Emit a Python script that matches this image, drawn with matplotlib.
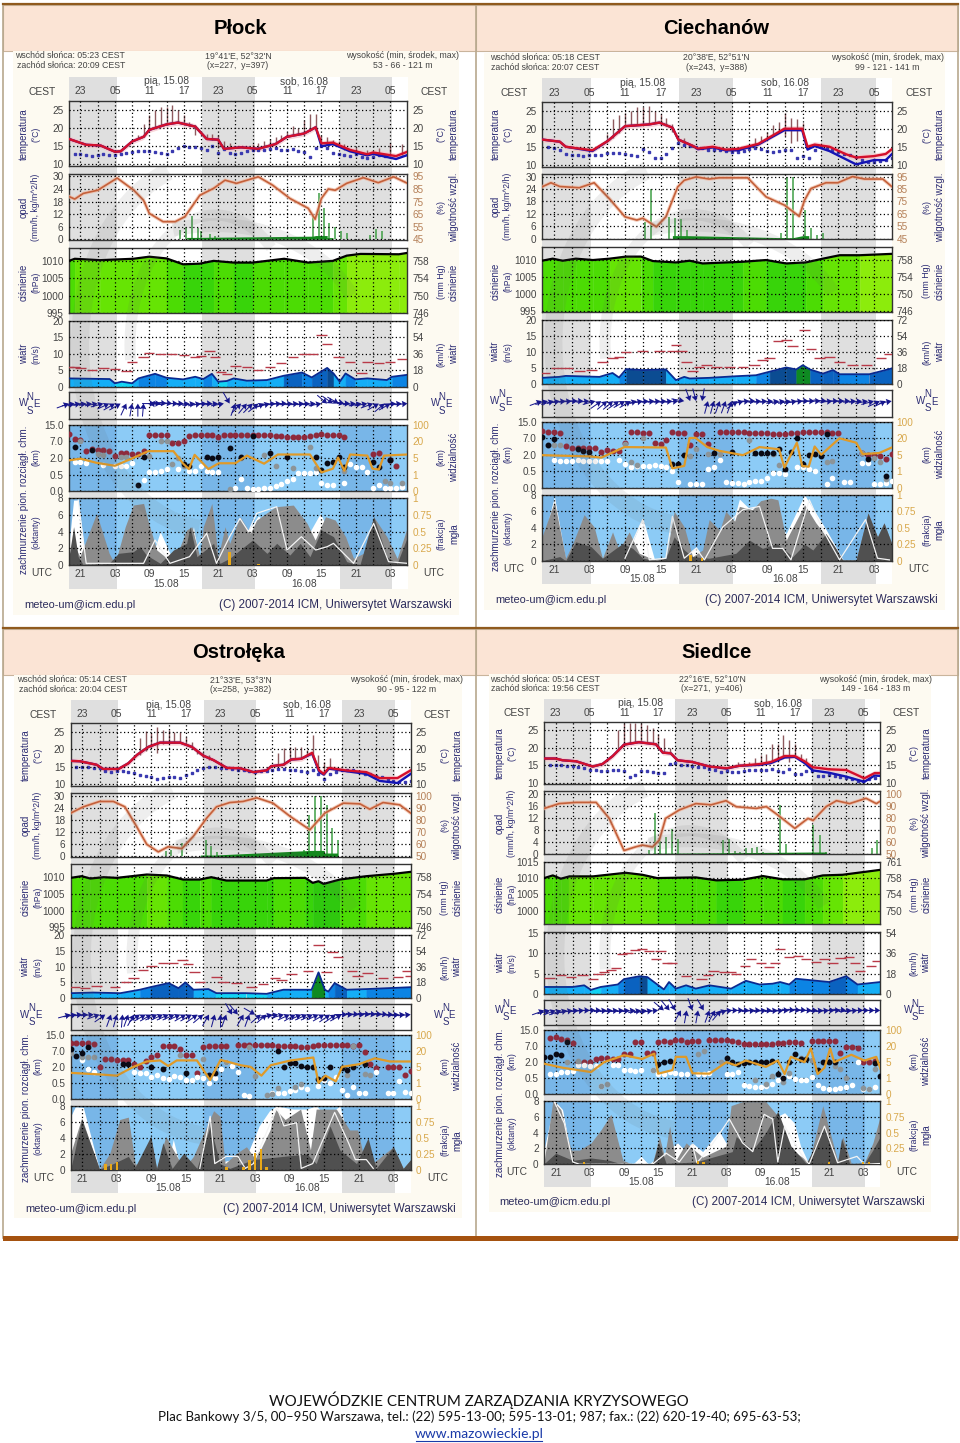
import numpy as np
import matplotlib
matplotlib.use('Agg')
import matplotlib.pyplot as plt
from matplotlib.patches import Arc, Rectangle

plt.rcParams['font.family'] = ['Liberation Sans', 'DejaVu Sans']

NAVY = '#2c2c74'
TICK = '#444444'

# ---------- Plock ----------
PL_TITLE = 'Płock'
PL_INFO = ['05:23', '20:09', "19°41'E, 52°32'N", '(x=227,  y=397)', '53 - 66 - 121 m']
PL_TEMP_H = [0, 3, 5.5, 8, 9, 11, 13, 14, 17, 19, 22, 24, 26, 27, 30, 33, 36, 38, 41, 43, 44, 46, 49, 52, 53, 57, 59]
PL_TEMP = [17, 15.4, 15.2, 13.5, 13.6, 16.3, 17.6, 19.5, 21, 21.5, 20.4, 17, 16.8, 14.3, 14.7, 14.3, 15.6, 17.6, 18.5, 20.2, 15.8, 16, 14, 12.8, 13.3, 12.3, 13.5]
PL_BLUE = [17, 15.4, 15.2, 13.5, 13.6, 16.3, 17.6, 19.5, 21, 21.5, 20.4, 17, 16.8, 14.3, 14.7, 14.3, 15.6, 17.6, 18.5, 20.2, 15, 15.6, 13.6, 12.5, 12.9, 11.5, 12.6]
PL_STEM_H = [12, 13, 14, 15, 16, 17, 18, 19, 20, 21, 22, 24, 25, 26, 27, 28, 32, 33, 34, 35, 36, 37, 38, 39, 40, 41, 42, 43, 44, 45, 46, 47, 48, 50, 52, 54, 56, 58]
PL_STEM_TOP = [18, 21, 23.5, 24.9, 25.9, 25.9, 26.4, 24.9, 23.5, 21.7, 20.8, 18.5, 18.3, 18, 16.5, 16, 15.5, 16, 16.5, 17, 17.5, 18, 19, 20.5, 20, 22.2, 23.8, 23.8, 18, 17.5, 16.8, 16.5, 15.6, 14.8, 14, 14.5, 15.8, 15.5]
PL_STEM_BOT = [17.3, 17.6, 19.5, 20, 20.5, 21, 21.4, 21.4, 21, 20.5, 18, 17, 16.8, 14.5, 14.3, 14.5, 14.3, 14.5, 14.8, 15.2, 15.6, 16.5, 17.6, 18, 18.2, 18.6, 19.2, 20, 15, 15.5, 15.3, 14.8, 14, 13.2, 12.8, 12.6, 12.3, 12.5]
PL_DEW = [None, 12.9, 12.8, 12.5, 12.4, 12.7, 12.9, 12.7, 12.6, 12.9, 13.2, 13.5, 13.7, 13.8, 13.7, 13.4, 13.2, 13, 13.7, 14.5, 15, 14.7, 14.8, 14.6, 13.9, 15, 13.2, 14.3, 13.2, 13, 13.2, 13.6, 14, 13.9, 13.9, 14.2, 14.5, 13.9, 14, 14.2, 13.7, 13.3, 12, 14.6, 15.2, 14.4, 13.2, 13, 12.7, 12.2, 12.8, 12, 11.7, 12, 12.6, 12.2, None, None, None, None]
PL_RH_H = [0, 1, 2.5, 5, 8.4, 11.3, 13, 14, 16.4, 18.5, 20.2, 22.8, 25.2, 27.2, 29.2, 33, 35.5, 38.5, 41.7, 42.9, 44, 45.2, 46.4, 48.4, 51.3, 53.9, 56.6, 59]
PL_RH = [79, 77, 81.5, 84, 93.7, 84, 76, 65.6, 59, 59, 63, 80, 85.5, 92, 89.5, 94.7, 88, 77.5, 69.6, 61, 77.5, 85, 84, 89.5, 94, 90, 94.7, 89.5]
PL_RAIN_H = [19.4, 20.4, 21.4, 22.4, 23, 24.6, 25.5, 42.6, 43.5, 44.5, 45.4, 46.4, 47.4, 48.4, 52.5, 53.5, 54.5]
PL_RAIN = [4.5, 6, 11, 5.5, 4, 2.5, 1.5, 11, 22, 15, 8, 6, 4, 3, 2, 5, 4]
PL_RAIN_LOW_H = [20.5, 21.5, 21.5, 22.2, 42.5, 43, 45, 45, 46]
PL_RAIN_LOW = [0.9, 0.9, 0.9, 0.9, 1.5, 1.8, 1.8, 0.8, 0.8]
PL_PRESS_H = [0, 1, 5.4, 11.2, 14, 17, 19.9, 22.8, 25.2, 28.7, 32, 37.5, 41.7, 46, 48.4, 50.8, 57.5, 59]
PL_PRESS = [1010, 1010.6, 1010.2, 1010.6, 1011.2, 1010.7, 1009, 1009.2, 1010, 1009.5, 1009.5, 1010.6, 1009.5, 1010, 1011.5, 1012, 1011.9, 1012.3]
PL_WIND_H = [0, 7.1, 8, 9.2, 11, 12.1, 15, 17, 19.9, 22, 23.4, 24.9, 26, 27.5, 28.7, 31, 34.5, 37.4, 40.6, 42.3, 45, 46.1, 47.2, 48.2, 49.9, 52, 55.4, 56.3, 59]
PL_WIND = [2.5, 2.3, 1, 1.5, 1, 2.5, 3.9, 2.7, 2.2, 3, 2.3, 3.9, 1.5, 1.7, 2.5, 1.8, 2, 3.3, 4.3, 2.8, 5.7, 4, 1.5, 4, 2.2, 2.5, 2, 3, 3.6]
PL_GUST_H = [0, 1, 2, 4, 6, 8, 10, 11, 13, 14, 16, 18, 20, 22, 23, 24.5, 25.5, 26.5, 27.5, 29, 31, 33, 35, 37, 39, 41, 42.5, 44, 45, 47, 49, 51, 52, 54, 56, 58]
PL_GUST = [6.1, 5.9, 5.6, 5, 5.6, 5.3, 4.8, 7.4, 8.9, 10.2, 10, 9.8, 9.5, 9.1, 9.3, 10.9, 9, 4.4, 3.8, 6.3, 5.9, 5, 5.9, 7.3, 8.9, 9.9, 9.9, 15.7, 12.9, 9.1, 7.6, 4.3, 7.6, 7.3, 7.4, 8.4]
PL_DIR = [20, 10, 10, 8, 8, 10, 15, 25, 30, 30, 65, 80, 90, 85, 175, 0, 0, -5, -5, 0, 0, 5, 8, 10, 5, 0, 5, 10, -60, 70, 45, 50, 45, 40, 25, 15, 5, 5, 0, 5, 5, 5, 5, 5, 10, -40, -35, -30, -10, 0, 5, 10, 10, 20, 30, 40, 30, 5, 5, 5]
PL_BASE_RED = [10.3, 7.9, 7.6, 4.2, 4.6, 4.5, 4.4, 4.2, 2.6, 3.5, 3.5, 3.2, 3.1, 4.2, 9.8, 9.8, 10, 9.8, 6.6, 6.6, 7, 9.7, 9.8, 9.8, 10, 9.8, 9, 10, 10, 10, 10, 10, 10, 9.9, 9.8, 9.8, 9.6, 9.3, 9, 9, 8.9, 9, 9.3, 9.8, 10.3, 10, 9.8, 9.8, 9, None, None, None, None, 3.2, 3.4, None, 1.8, 1.3, None, None]
PL_BASE_BLACK_H = [1, 4, 12, 13, 20, 21, 24, 25, 26, 28, 30, 32, 35, 38, 43, 44, 45, 46, 47, 48, 53, 54, 56]
PL_BASE_BLACK = [5.4, 4.4, 0.18, 2.4, 1.45, 1.3, 2.4, 2, 2.2, 4.9, 2.2, 9.6, 3.4, 2.4, 2.2, 0.95, 1.5, 1.6, 2.2, 1.15, 1.6, 1.2, 1.8]
PL_BASE_GREY_H = [2, 5, 6, 9, 10, 14, 16, 17, 18, 19, 20, 28, 30, 34, 36, 39, 42, 43, 48, 55, 56, 58]
PL_BASE_GREY = [7, 3.3, 3, 2.4, 2.2, 2.6, 7.2, 7, 1.45, 2, 1.3, 0.06, 2, 3, 1.3, 1.1, 5.4, 1.1, 0.85, 0.3, 0.26, 0.26]
PL_BASE_WHITE_H = [1, 2, 3, 6, 8, 9, 10, 11, 13, 14, 15, 16, 17, 19, 21, 22, 23, 24, 25, 26, 29, 30, 31, 32, 33, 34, 35, 36, 37, 38, 39, 40, 41, 42, 43, 44, 45, 46, 48, 49, 50, 51, 52, 53, 54, 55, 56, 57, 58]
PL_BASE_WHITE = [1.6, 1.6, 1.55, 1.4, 1.3, 1.25, 1.3, 1.5, 0.34, 0.7, 0.72, 0.85, 1, 1, 0.8, 0.85, 1.3, 0.85, 0.7, 0.7, 0.11, 0.36, 0.11, 0.08, 0.08, 0.09, 0.11, 0.16, 0.21, 0.3, 0.38, 0.6, 0.6, 0.65, 0.7, 0.26, 0.19, 0.19, 0.24, 1.45, 1.2, 1.2, 0.7, 0.11, 0.18, 0.11, 0.11, 0.11, 0.14]
PL_VIS_H = [0, 2, 4.8, 8, 10.9, 13.8, 18.2, 19.9, 20.9, 21.9, 24.3, 26.1, 29, 31, 34, 36.4, 42, 44, 46, 46.9, 48, 49, 52, 52.9, 54, 54.9, 59]
PL_VIS = [4.4, 4.8, 3.8, 3.1, 4.8, 11, 11, 3.6, 2.3, 7.7, 2.3, 3.7, 3.7, 7, 3.6, 8, 8, 1.5, 2.4, 5.2, 1.9, 8, 7, 2.4, 2.2, 7, 8]
PL_C_WHITE_H = [0, 0.8, 1.6, 3, 14, 15.9, 17.6, 18.5, 20, 21.7, 22.8, 24, 30, 33, 35, 36, 39, 42, 43.8, 45, 46]
PL_C_WHITE = [2.6, 7.8, 7.8, 0, 0, 4, 1.4, 0, 0, 4.6, 0.2, 0, 3, 5.9, 4.5, 6, 6, 4, 6.2, 4.5, 0]
PL_C_GREY_H = [0, 0.5, 1.9, 2.8, 4.8, 7, 8, 9.8, 11.2, 13, 13.9, 15.3, 18.2, 20.5, 21.4, 22.8, 23.4, 24.9, 26, 27.2, 28, 29.8, 31.6, 32.7, 36, 39.1, 41.5, 42.9, 44.7, 46.4, 48.2, 49.6, 51.3, 53.1, 55.4, 57.2, 59]
PL_C_GREY = [0, 3, 1, 2.6, 6.2, 1.4, 0.1, 4.6, 7.2, 7.4, 5, 1.8, 0.2, 4.2, 4.6, 1, 4.6, 7.4, 1, 4.6, 2.6, 5.8, 3.8, 5.4, 7, 7.2, 5, 3, 5.8, 5.4, 3.4, 0.8, 1.4, 5.8, 3.4, 0.8, 4.6]
PL_C_DARK_H = [0, 0.8, 1.6, 2.5, 7, 8.6, 11.2, 12.4, 13.5, 15.9, 18.2, 20.5, 21.1, 22.3, 25.2, 26.3, 28, 29.8, 32, 34.5, 36.2, 38.5, 40.3, 42, 44, 46.1, 48.4, 50.7, 53.1, 55.4, 57.2, 59]
PL_C_DARK = [1, 4.6, 1, 0, 0.2, 1.4, 1.6, 2.2, 1.2, 0.2, 1.8, 2.6, 4.6, 1, 2.6, 0.2, 0.8, 1.8, 3, 1.4, 2.6, 1.2, 2.6, 1, 4.2, 3.4, 0.4, 0, 5.8, 1, 0.2, 3.4]
PL_FOG_H = [1.6, 3, 13, 15, 17.6, 21, 24, 25.7, 28, 29.8, 31.3, 32.7, 36.2, 38, 40.5, 43, 45, 46.1, 49.6, 53.1, 55.7, 59]
PL_FOG = [7.8, 0.2, 0.2, 3, 0.2, 1, 3.8, 0.2, 3.4, 5.6, 4, 6.2, 7, 1.8, 3.4, 1.8, 2.2, 2.6, 0.2, 5, 0.4, 0.2]
PL_MIST_H = [28, 33]
PL_MIST = [0.19, 0.02]

# ---------- Ciechanow ----------
CI_TITLE = 'Ciechanów'
CI_INFO = ['05:18', '20:07', "20°38'E, 52°51'N", '(x=243,  y=388)', '99 - 121 - 141 m']
CI_TEMP_H = [0, 3, 4, 8.5, 11.1, 14, 18.1, 19.8, 22, 23, 25.5, 26.3, 28.8, 31, 33.1, 36.5, 40.9, 43.9, 44.8, 46, 48.5, 51.3, 53, 56, 58, 59]
CI_TEMP = [17, 16.4, 15, 14, 16.6, 20.7, 21.2, 21.7, 20.3, 17, 15.2, 14.5, 15, 14.2, 14.4, 15.8, 20, 20, 15, 15.6, 15, 12.9, 12, 12.4, 13, 14.3]
CI_BLUE = [17, 16.4, 15, 13.8, 16.6, 20.7, 21.2, 21.7, 20.3, 17, 15.2, 14.3, 14.8, 14, 14, 15.6, 19.6, 19.6, 14.2, 15.2, 13.8, 11.5, 10.1, 11.3, 11.3, 12.9]
CI_STEM_H = [11, 12, 13, 14, 15, 16, 17, 18, 19, 20, 21, 22, 23, 24, 36, 37, 38, 39, 40, 41, 42, 43, 44]
CI_STEM_TOP = [18.4, 22.6, 23.8, 24.5, 24.9, 26, 26, 26.3, 24.9, 24, 23, 21.2, 18.2, 17.5, 17.5, 18, 19, 21, 22, 24.4, 23, 22.8, 21.6]
CI_STEM_BOT = [16.6, 17.5, 18.8, 20.7, 20.8, 20.9, 21, 21.2, 21.5, 21.7, 21.2, 19, 16, 15.6, 15.8, 16.4, 17.5, 18, 19, 18, 16, 16.5, 19.7]
CI_DEW = [None, 15, 14.7, 14, 12.9, 12.7, 12.6, 12.4, 12.6, 12.6, 12.6, 13.3, 13.2, 13.3, 12.9, 12.6, 12.4, 14.3, 13.5, 11.9, 11.9, 13, 14.7, 16, 15.5, 15.2, 14.8, 14.6, 14, 14, 14.2, 13.8, 13.5, 13.5, 13.8, 14.3, 14.7, 14.3, 13.8, 13.6, 13.8, 14, 14.2, 11.9, 12.3, 11.9, 14, 14.8, 14.6, 14, 13.6, 13, 12.6, 12.2, 11.4, 10.8, 10.8, 11, 11.2, 12]
CI_RH_H = [0, 1.5, 3, 6.3, 8.8, 11.4, 14, 16, 17, 19.3, 20.9, 22.9, 24, 26, 28.2, 29.9, 34.7, 37.8, 40.9, 43.4, 44.3, 45.4, 47.9, 49.9, 52.4, 54.4, 57.5, 59]
CI_RH = [86.7, 90, 87, 86, 90, 77, 62.6, 60, 61.5, 54.6, 62.6, 86.7, 92, 94.7, 93, 94, 94, 78.7, 72, 63, 76, 85.4, 90, 90, 95, 93, 93, 87]
CI_RAIN_H = [17.4, 18.4, 21.4, 22.4, 23.4, 24.4, 40.4, 41.4, 42.4, 44.4, 45.4, 46.4, 47.4]
CI_RAIN = [8, 24, 10.6, 10, 9.5, 4, 3, 30, 30, 14, 5, 2, 3]
CI_RAIN_LOW_H = [22, 24.2, 41, 42.3, 44, 45]
CI_RAIN_LOW = [1.5, 1.5, 0.5, 0.5, 1.5, 1.5]
CI_PRESS_H = [0, 1.8, 3.5, 5.7, 8.6, 11.4, 14.2, 16.7, 18.7, 22.6, 24.9, 27.1, 33.9, 37.8, 41.2, 44.5, 47.4, 50.2, 53.6, 59]
CI_PRESS = [1009.8, 1010.4, 1009.8, 1010.4, 1010, 1010.4, 1011, 1011, 1009.7, 1009.3, 1009.8, 1009, 1009.5, 1010, 1009, 1009.3, 1010.4, 1011.4, 1011.4, 1011.8]
CI_WIND_H = [0, 2.9, 4, 9.7, 11.9, 13, 14.2, 17, 20.9, 22.6, 24, 24.9, 28.2, 32.7, 36.1, 38.4, 41.2, 42.9, 44, 45.2, 47.4, 49.1, 50.2, 55.2, 59]
CI_WIND = [2, 2.3, 2.6, 2.3, 3.5, 2.1, 4.7, 4.4, 4.6, 1.3, 2.3, 1.8, 2, 2.5, 2.8, 3.9, 5.2, 4.6, 5.9, 4.6, 3.3, 4.4, 3.1, 3.1, 4.9]
CI_GUST_H = [0.5, 2.4, 4.3, 6.3, 8.3, 10.2, 11.9, 13, 14.2, 17, 19.8, 22, 22.6, 23.5, 24.4, 25.4, 26.5, 27.7, 29.4, 31.6, 33.9, 35.8, 37.2, 38.4, 39.8, 41.2, 42.3, 44.3, 45.4, 46.8, 48.5, 50.2, 52.4, 54.7, 57.2, 58.6]
CI_GUST = [3.6, 5, 4.9, 4, 4.4, 7, 8, 8.5, 9.9, 10.2, 10.2, 10.4, 12.2, 10.2, 7, 4, 5.4, 5.9, 5.2, 5.4, 5.4, 6.1, 7.5, 8, 13.5, 13.8, 11.9, 16.7, 10.8, 8, 8.5, 7, 5.9, 6.1, 8, 9.3]
CI_DIR = [20, 15, 15, 10, 5, 5, 0, 0, 5, 15, 35, 40, 40, 35, 30, 30, 15, 10, 5, 5, 5, 5, 5, 5, -10, -70, -75, -100, 75, 75, 70, 70, 70, 35, 15, 5, 0, 5, 5, 5, 10, 10, 10, 10, 5, 0, 0, 0, -5, 5, 0, 0, 0, 5, 5, 10, 15, 25, 25, 10]
CI_BASE_RED = [10.6, 10, 10.2, 9.6, 4.8, 4.2, 4.2, 4.2, 4.2, 4, 2.7, 3.4, 3.2, 3.1, 5.7, 10, 10, 9.6, 9.4, 5.6, 5.3, 6.6, 10, 9.8, 9.6, 5, 9.3, 9.2, 5.2, None, 10, 10, 10, 10, 10, 9.6, 9.6, 9.6, 9.4, 9.3, 9.2, 9.2, 9.8, 9.8, 10, 10, 10, 10, 9.9, 9.7, 9.4, None, None, None, 2.5, 2, 2, 1.9, 1.6, 2.1]
CI_BASE_BLACK_H = [0, 1, 2, 6, 7, 8, 22, 23, 24, 29, 32, 36, 37, 38, 39, 40, 41, 42, 43, 44, 45, 46, 47, 48, 55, 58]
CI_BASE_BLACK = [7.4, 5, 6.9, 3.9, 3, 2.9, 1.2, 1.2, 2, 2.4, 2.8, 2.5, 2.4, 2.6, 2.4, 3.6, 0.7, 2.9, 7.2, 1.2, 2, 2.2, 1.9, 9.3, 1.6, 0.36]
CI_BASE_GREY_H = [1, 2, 3, 14, 15, 16, 17, 25, 26, 28, 30, 35, 39, 40, 48, 49, 54, 56, 57, 58]
CI_BASE_GREY = [5, 4.9, 5, 5.4, 1.35, 1.1, 7.2, 1.9, 3.8, 2.3, 2.3, 6.5, 2.3, 1.05, 1.3, 1.4, 2.4, 1.7, 1.3, 0.27]
CI_BASE_WHITE_H = [2, 3, 4, 5, 6, 7, 8, 9, 10, 11, 13, 14, 15, 16, 17, 18, 19, 20, 21, 22, 23, 25, 26, 27, 28, 29, 30, 31, 32, 33, 34, 35, 36, 37, 38, 39, 40, 41, 43, 44, 45, 46, 48, 49, 51, 52, 54, 55, 56, 57, 58, 59]
CI_BASE_WHITE = [1.5, 1.43, 1.43, 1.43, 1.5, 1.45, 1.43, 1.43, 1.43, 1.45, 1.55, 1.15, 0.85, 0.95, 0.95, 0.95, 1.05, 0.95, 0.85, 0.55, 0.16, 0.11, 0.11, 0.11, 0.7, 0.85, 1.5, 0.16, 0.14, 0.13, 0.11, 0.16, 0.19, 0.21, 0.31, 0.44, 0.44, 0.41, 0.9, 0.85, 0.67, 0.55, 0.11, 0.28, 0.16, 0.16, 1.25, 1.25, 0.11, 0.11, 0.13, 0.21]
CI_VIS_H = [0, 8, 10, 13.9, 20.9, 22, 24, 24.9, 25.9, 27.9, 29.9, 33.9, 36.7, 40, 40.9, 43, 43.9, 45, 46, 47.1, 50.2, 53, 54.1, 56.9, 59]
CI_VIS = [4.9, 4.6, 4.3, 12, 11.6, 1.7, 2.3, 21, 22, 12, 8.6, 4.9, 12, 10, 1.9, 16, 2.3, 2.1, 12.5, 5, 20, 16, 5.6, 6.6, 11.6]
CI_C_WHITE_H = [0, 2.1, 4, 14, 17, 19, 21, 22, 23.7, 26, 27.6, 32, 33.3, 35, 37.2, 41.2, 44.3, 48, 50.8]
CI_C_WHITE = [2, 7.8, 0.1, 0.1, 5.2, 0.1, 0.1, 5.4, 0.3, 1.7, 0.1, 4, 7.5, 6.3, 6.8, 3.3, 8, 3.7, 0.1]
CI_C_GREY_H = [0, 2.1, 4, 5.2, 7.1, 8.8, 10.2, 11.9, 13, 14.7, 16.4, 18.7, 20.9, 22.3, 24, 25.4, 27.1, 28.2, 30, 31, 32.5, 33.3, 35.5, 36.9, 38.6, 39.8, 41.2, 44.3, 46.2, 48.5, 50.7, 53, 55, 56.6, 57.7, 59]
CI_C_GREY = [2.9, 7.2, 0.3, 2.1, 5.6, 4.1, 0.3, 3.5, 1.3, 3.5, 0.9, 0.2, 0.3, 6, 4.1, 0.5, 1.3, 5, 3.7, 6, 4.8, 6.6, 6.2, 7.3, 7.6, 7.4, 2.5, 6.8, 4.6, 2.5, 0.1, 0.1, 5.8, 2.9, 4.6, 2.1]
CI_C_DARK_H = [0, 3, 4, 5.7, 8.3, 10.2, 13.6, 15.3, 17, 19.3, 20.9, 22.3, 24, 25.4, 28.2, 32.7, 35, 37.2, 39.6, 42.3, 44.3, 45.7, 47.9, 49.6, 50.7, 53, 55, 56.6, 57.7, 59]
CI_C_DARK = [0, 0.5, 0, 2.3, 1.7, 0.3, 2.1, 1.5, 0.3, 0, 0.3, 2.9, 1.3, 0.5, 0.3, 0.9, 2.5, 1.5, 2.1, 0.5, 2, 1.3, 3.3, 1.5, 0.1, 0.1, 5.8, 2.9, 4.6, 2.1]
CI_FOG_H = [14, 17, 18.1, 20.9, 22, 24, 26, 27.4, 30.5, 33.9, 36.7, 38.9, 40.6, 42, 45.1, 47.4, 50.2, 54.6, 56.6, 58.6]
CI_FOG = [0.3, 5, 0.1, 0.3, 5.4, 0.3, 1.5, 0.1, 4.1, 6.2, 6.6, 1.5, 1.5, 0.1, 7.4, 3.7, 0.1, 5, 0.3, 0.1]
CI_MIST_H = [25, 27]
CI_MIST = [0.09, 0.04]

# ---------- Ostroleka ----------
OS_TITLE = 'Ostrołęka'
OS_INFO = ['05:14', '20:04', "21°33'E, 53°3'N", '(x=258,  y=382)', '90 - 95 - 122 m']
OS_TEMP_H = [0, 1.6, 4.5, 5.6, 8.3, 10, 11.5, 13.5, 15.5, 19, 21, 23, 24.8, 27.1, 29.4, 31.7, 34, 34.8, 36.9, 38.3, 40, 41.9, 43.1, 43.9, 44.8, 47.7, 51.3, 53.6, 56.7, 59]
OS_TEMP = [16.7, 16.6, 15.6, 14.4, 14.4, 16, 18.4, 20.7, 21.9, 21.9, 20.7, 18.2, 16.9, 14.7, 14.6, 13.5, 14, 15.2, 15.6, 17.1, 17.3, 19, 14, 13, 14.7, 14, 13.5, 11.8, 11.8, 14]
OS_BLUE = [16.7, 16.6, 15.6, 14.4, 14.4, 16, 18.4, 20.7, 21.9, 21.9, 20.7, 18.2, 16.9, 14.7, 14.6, 13.5, 14, 15.2, 15.6, 17.1, 17.3, 18.8, 13.6, 12.8, 14.5, 13.8, 13, 11, 10.4, 13]
OS_STEM_H = [12, 13, 14, 15, 16, 17, 18, 19, 20, 21, 22, 23, 24, 36, 37, 38, 39, 40, 41, 42, 43, 44, 45]
OS_STEM_TOP = [23.2, 25.3, 24.6, 26.5, 25.6, 25.6, 25, 25, 23.6, 22, 19.8, 19.2, 18.3, 19, 20.3, 20.7, 20.7, 20.7, 19.8, 24.1, 18.3, 16.4, 17.4]
OS_STEM_BOT = [18.5, 19.5, 20.7, 19, 21.5, 21.9, 21.9, 21.9, 21.5, 20.7, 18.8, 17.5, 16.9, 15.4, 15.6, 17, 17.2, 17.3, 18.2, 17.5, 14, 13, 14.7]
OS_DEW = [None, 15, 15, 15, 14.8, 14.6, 13.7, 13.6, 13.7, 13.8, 13.5, 13.2, 12.8, 12.5, 12, 11.6, 11.7, 12.2, 12, 11.8, 12.7, 13.3, 14, 14.8, 15, 15, 14.8, 14.6, 14.3, 14.2, 14, 13.8, 13.6, 13.7, 13.8, 14.2, 14.5, 14.5, 14.2, 14, 13.7, 13.5, 14.2, 13, 11.5, 13, 13.5, 14, 14, 14, 13.5, 13, 13, 12.5, 12, 11.5, 11, 10.8, 10.8, 11]
OS_RH_H = [0, 2.2, 5, 7.4, 9.4, 11.4, 13.2, 15.2, 16.9, 19.3, 21.3, 23.6, 25.3, 27.6, 29.9, 32.3, 35.1, 38.1, 41.5, 44.1, 47.3, 50.2, 51.9, 54.2, 57.1, 59]
OS_RH = [85.8, 91, 95.4, 95.4, 91, 75, 60, 53.8, 58, 56.5, 66.7, 81.7, 91, 94.5, 95.4, 98.4, 94, 83, 72, 85.8, 94, 93.4, 89, 94.5, 92.6, 85.8]
OS_RAIN_H = [16.5, 17.4, 19.4, 22.4, 23.4, 24.4, 25.4, 40.4, 41.4, 42.4, 43.4, 44.4, 45.4, 46.4]
OS_RAIN = [2.6, 3, 6.7, 0.2, 8, 5, 2, 3.4, 20.5, 30, 30, 25.6, 14, 8]
OS_RAIN_LOW_H = [22.5, 25, 41.8, 44, 44, 46.3]
OS_RAIN_LOW = [0.7, 0.7, 3, 3, 1.7, 1.7]
OS_PRESS_H = [0, 1.9, 3.4, 5.7, 8, 13.2, 16.7, 19.5, 22.4, 24.4, 27, 34, 35.2, 40.7, 42, 43, 43.9, 46.7, 51.3, 56, 59]
OS_PRESS = [1009.8, 1010.3, 1009.6, 1010, 1009.8, 1010.8, 1010.5, 1009.3, 1009.3, 1010, 1009, 1009, 1009.7, 1009.8, 1008.3, 1008.8, 1008, 1009.3, 1010.3, 1011, 1011.6]
OS_WIND_H = [0, 3.9, 8.6, 12, 13.8, 17, 18.7, 19.9, 21.3, 23.9, 25.3, 30.5, 34, 36.9, 41.8, 43, 44.1, 44.7, 45.8, 47.9, 51.3, 59]
OS_WIND = [1.6, 1.8, 1.6, 2.7, 3.5, 4.8, 3.2, 5, 2.7, 2.9, 1.6, 1.6, 1.4, 2.7, 2.7, 8.2, 2.7, 2.1, 4.8, 2.7, 2.9, 3.5]
OS_GUST_H = [0.8, 2.5, 4.5, 7.7, 9.6, 10.9, 12.5, 14, 16, 17.8, 19.4, 20.4, 21.5, 22.4, 25.3, 26.5, 28.8, 31.4, 33.4, 35.4, 36.6, 38.3, 41.2, 43, 44.4, 45.4, 46.4, 48.8, 49.8, 51.5, 54.2, 56.8, 58.9, 58.4]
OS_GUST = [3.7, 3.2, 3.9, 3.7, 5.1, 6.4, 8.8, 10.1, 11.2, 11.2, 12, 10.8, 8.3, 5.1, 6.7, 5.1, 4.8, 3.5, 4.5, 6.4, 5.9, 7.8, 8.5, 17, 8.3, 14.6, 13, 8.7, 6.9, 8, 6.4, 6.6, 6.9, 8.7]
OS_DIR = [15, 10, 5, 5, 5, 20, 35, 70, 75, 85, 70, 60, 35, 30, 30, 25, 25, 25, 25, 25, 30, 30, 35, 40, 60, 75, 90, 70, -60, -50, 60, 70, -30, 40, 40, 15, 10, 15, 25, 30, 25, 25, 25, 25, 30, 35, 35, 30, 0, 0, -5, 0, -5, -5, -5, -5, 0, 5, 5, 5]
OS_BASE_RED = [11, 10.7, 10.7, 10.7, 10.5, 2, 4.5, 4.3, 4.2, 4, 4, 2.8, 2, 3.7, 5.2, 5.6, 9.6, 9.6, 9.2, 8, 5.8, 5.6, 1.4, 9, 9.6, 9.6, 9.6, 9.2, None, 10, 10, 10, 10, 10, 9.8, 9.7, 9.6, 9.4, 9.3, 9.2, 9, 9, 9.6, 9.9, 10, 10, 10, 10, 9.8, 9.6, 9.9, 6.7, 2.9, 1.9, None, 2, 2.1, 2.1, 1.2, 1.6]
OS_BASE_BLACK_H = [0, 1, 2, 3, 9, 10, 14, 16, 20, 24, 25, 36, 37, 38, 39, 40, 41, 42, 43, 44, 45, 47, 48, 49, 51]
OS_BASE_BLACK = [8, 5.5, 6.2, 9, 2.9, 2.8, 2.1, 1.8, 1.4, 1.2, 1.4, 7, 2.1, 3.1, 3.2, 2.4, 2.1, 2, 0.9, 1, 2, 1.9, 1.7, 2.1, 2.9]
OS_BASE_GREY_H = [0, 2, 3, 4, 19, 23, 27, 31, 32, 34, 35, 36, 39, 40, 48, 49, 51, 52]
OS_BASE_GREY = [6.2, 5, 5, 5, 5.6, 4.5, 3.6, 8.8, 1.1, 0.12, 0.14, 0.33, 0.38, 0.48, 1.2, 9.2, 1.35, 1.2]
OS_BASE_WHITE_H = [2, 3, 4, 11, 12, 13, 14, 15, 16, 17, 18, 19, 20, 21, 22, 23, 24, 25, 26, 27, 28, 29, 30, 31, 35, 36, 37, 38, 39, 40, 41, 43, 44, 45, 46, 47, 48, 49, 50, 51, 53, 55, 56, 57, 58, 59]
OS_BASE_WHITE = [4.15, 1.76, 1.55, 1.49, 1.47, 1.47, 1.07, 1.23, 0.92, 0.86, 1.14, 1.07, 0.76, 0.76, 1.07, 0.92, 0.5, 0.98, 1.76, 3.4, 2.25, 1.55, 0.12, 0.09, 0.17, 0.17, 0.17, 0.25, 0.29, 0.38, 0.32, 0.4, 0.76, 0.5, 1.07, 0.27, 0.12, 0.36, 0.17, 0.17, 1.55, 0.17, 0.17, 0.7, 0.22, 0.19]
OS_VIS_H = [0, 5.1, 8, 10.9, 13.2, 15.5, 16.9, 18.4, 21.9, 24.2, 26, 29.5, 31.2, 33.1, 34.7, 38.2, 42.1, 43, 44.2, 46, 47.1, 50, 52.8, 55.4, 59]
OS_VIS = [3.5, 3.1, 2.8, 5, 10, 11, 5.8, 11, 11, 1.7, 11.5, 6.5, 5, 2.8, 6.5, 11, 13.7, 1, 2.8, 1.4, 5, 7.4, 13, 10, 10]
OS_C_WHITE_H = [0, 0.8, 2.2, 5, 16.6, 17.8, 19, 20, 30.5, 32.7, 34.5, 35.7, 38.6, 40.9, 42.6, 44.4, 46.7, 48.4, 51.3]
OS_C_WHITE = [6.7, 7.9, 7.8, 0, 0, 3.8, 0.4, 0, 1.7, 5.5, 7.4, 8, 7.6, 7.6, 8, 6.7, 8, 3.4, 0]
OS_C_GREY_H = [0, 1.9, 5, 6.8, 8.5, 10, 11.2, 12.9, 13.9, 14.9, 16.5, 19.6, 21.3, 24.8, 25.9, 26.8, 28.8, 30.5, 31.7, 32.9, 34.6, 35.5, 37.2, 39.9, 41.6, 42.6, 46.1, 48.4, 49.8, 51.3, 56, 57.7, 59]
OS_C_GREY = [2.1, 6.5, 0.1, 2.1, 6.3, 6.6, 0.8, 0.2, 4.2, 0.2, 4.2, 0.2, 1.7, 7.4, 6.7, 0.8, 2.1, 2.9, 1.7, 2.5, 5, 7.6, 6.3, 7.6, 2.5, 7.6, 7.6, 5, 5, 0.2, 2.9, 0.2, 1.3]
OS_C_DARK_H = [0, 1.9, 5, 7.4, 10, 11.2, 13.9, 14.9, 16, 17.6, 19.6, 21.9, 24.2, 25.9, 27.6, 31.7, 36.9, 41, 42.6, 45, 46.7, 49.6, 51.6, 53, 56, 57.7, 59]
OS_C_DARK = [0.1, 6.3, 0.1, 0.8, 1.7, 0.4, 4.2, 0.2, 3.4, 0.2, 2.1, 0.2, 5.5, 0.8, 0.2, 1.3, 1.7, 2, 0.8, 5.5, 2.5, 0.8, 4, 0.2, 2.9, 0.2, 1.3]
OS_FOG_H = [22.4, 24.2, 25, 27, 29, 30.3, 31.7, 35.8, 37, 39.2, 40, 42, 45.8, 48.2, 49.4, 51.3, 52.5]
OS_FOG = [0.2, 6.7, 0.8, 1.7, 1.7, 0.2, 0.8, 7.8, 5.5, 5.9, 0.2, 0.8, 7.2, 3.4, 1.3, 1.3, 0.2]
OS_MIST_H = [6, 7, 8, 27, 30, 31, 32, 33, 34]
OS_MIST = [0.1, 0.1, 0.13, 0.05, 0.05, 0.16, 0.26, 0.32, 0.05]

# ---------- Siedlce ----------
SI_TITLE = 'Siedlce'
SI_INFO = ['05:14', '19:56', "22°16'E, 52°10'N", '(x=271,  y=406)', '149 - 164 - 183 m']
SI_TEMP_H = [0, 2, 3.2, 5.6, 8.5, 10.2, 12, 14, 16.6, 19.6, 20.8, 22.2, 23.4, 26, 29, 32, 34.2, 37.8, 39.8, 42.2, 44, 45.7, 47.1, 50, 53, 56.2, 58, 59]
SI_TEMP = [16.9, 16.9, 16.4, 16.1, 14.6, 15.3, 17.6, 20.9, 21.6, 21, 18.6, 18.4, 16.4, 15.9, 14.6, 14.1, 14.8, 15.3, 15.9, 17.6, 17.6, 16.1, 14.4, 13.8, 13.6, 11.2, 12.7, 12.7]
SI_BLUE = [16.9, 16.9, 16.4, 16.1, 14.6, 15.3, 17.6, 20.9, 21.6, 21, 18.6, 18.4, 16.4, 15.9, 14.6, 14, 14.8, 15.1, 15.6, 17.2, 17.4, 15.6, 13.5, 12.8, 11.7, 10.2, 12, 11.9]
SI_STEM_H = [13, 14, 15, 16, 17, 18, 19, 20, 21, 22, 34, 35, 36, 37, 38, 39, 40, 41, 42, 43, 44, 45, 46]
SI_STEM_TOP = [25, 27, 27, 27.2, 27, 26.5, 25.7, 24, 22.7, 20, 16, 16, 16, 17, 18, 18.3, 21, 21.2, 23.7, 22.2, 21.2, 18.1, 17.1]
SI_STEM_BOT = [19, 20.9, 21.2, 21.5, 21.6, 21.5, 21.3, 20, 18.6, 18.4, 14.8, 15, 15.2, 15.3, 15.4, 15.6, 15.9, 16, 17.5, 15.8, 17.6, 16.5, 15.6]
SI_DEW = [None, 15, 15, 15, 14.8, 14.7, 14.6, 14.3, 13.7, 13.5, 13.3, 13.3, 13.5, 13.5, 13.3, 11.5, 12.2, 13.3, 13.3, 13, 12.7, 12.7, 15.2, 15.5, 15, 15, 14.8, 14.6, 14.4, 14, 13.5, 13, 13.2, 13, 13, 13.2, 13.5, 13.7, 13.7, 13.5, 13.8, 13.3, 13, 14, 12.5, 12.5, 13.3, 13.3, 12, 11.8, 12.2, 12, 11.7, 11.2, 10.9, 10.5, 10.5, 11, 11.4, None]
SI_RH_H = [0, 2.6, 5.6, 9.1, 11.4, 14, 16, 17.2, 19, 20.2, 21.3, 23.7, 26.6, 29.3, 31.9, 33.7, 37.2, 39, 41, 44, 46.3, 47.2, 49.5, 51.3, 53.6, 56.5, 58.3, 59]
SI_RH = [88, 92, 93, 93, 79.7, 53, 56, 57.5, 56, 61.7, 79.7, 86.7, 92, 91, 94.4, 89.4, 88, 89.5, 82.5, 71.4, 79.7, 78, 89.5, 94.4, 92, 96.4, 92, 94]
SI_RAIN_H = [18.4, 19.4, 20.4, 21.4, 22.4, 23.4, 31.4, 32.4, 33.4, 34.4, 35.4, 36.4, 37.4, 38.4, 41.4, 42.4, 47.2, 48.4, 49.4, 57.5, 58.5]
SI_RAIN = [1.3, 13.8, 4.4, 5.8, 8.3, 5, 4.7, 5, 1.1, 0.6, 1.9, 1.9, 2.4, 0.8, 16.3, 3.5, 9.7, 6.3, 0.8, 1.9, 4.7]
SI_RAIN_LOW_H = [19, 21, 47, 49.5]
SI_RAIN_LOW = [0.3, 0.3, 0.7, 0.7]
SI_PRESS_H = [0, 1.5, 2.9, 4.4, 8.5, 14.3, 17.2, 19.8, 26.6, 30.2, 34.8, 38.4, 41.9, 45.7, 48.9, 52.4, 59]
SI_PRESS = [1010, 1010.8, 1009.8, 1010.5, 1010.5, 1011.6, 1011, 1010, 1010.2, 1009.3, 1009.5, 1010.6, 1009.6, 1009.6, 1010.8, 1011, 1012.5]
SI_WIND_H = [0, 5, 7, 8.2, 9.9, 12.9, 14, 16.7, 18.1, 21, 21.9, 23.1, 24.9, 26.6, 29, 32.8, 35.4, 37.8, 40.1, 41.4, 43, 44.2, 50, 53, 55, 59]
SI_WIND = [1.8, 1.8, 2.2, 1.1, 1.8, 2.4, 3.7, 4.4, 4.2, 1.2, 3, 1.4, 2.2, 1.4, 2.2, 1.4, 3.3, 2.4, 2.6, 3, 2.4, 3.8, 3, 4.4, 2.4, 3]
SI_GUST_H = [0.9, 2.9, 4.7, 6.7, 8.5, 9.5, 10.5, 11.7, 12.6, 13.6, 14.7, 15.9, 17.1, 18.4, 19.6, 20.4, 21.6, 22.4, 24.9, 27.6, 28.7, 29.7, 31.6, 32.8, 33.7, 35.3, 36.3, 38, 39.5, 40.5, 41.4, 43, 44.5, 45.9, 47.7, 49.2, 50.6, 52, 53.5, 54.5, 55.5, 57.4, 58.4]
SI_GUST = [4, 4.8, 4.2, 4.6, 3.7, 4.9, 5.4, 6, 6.5, 9.8, 10, 10.8, 11.1, 10.5, 8.5, 10.6, 7.7, 7.7, 4.4, 3.7, 4.6, 5.7, 5.4, 5.4, 4.9, 7, 8.5, 7.5, 6.7, 7.7, 11, 9, 9.3, 8.5, 7.9, 8.7, 7.5, 8.9, 9, 7.6, 5.7, 6.8, 8]
SI_DIR = [20, 15, 20, 20, 15, 10, 5, 5, 0, 0, 0, 5, 5, 5, 5, 5, 5, 10, 10, 10, 5, -40, -50, -60, 60, 80, -70, 80, -60, 70, 60, 50, 20, 5, 0, 0, 0, 5, 0, 5, 0, 5, 5, 0, -5, -5, -5, 0, 0, 5, 5, 0, 0, -5, 5, 5, 0, 0, 0, 0]
SI_BASE_RED = [None, 11.2, 11.7, 10.6, 10.3, 8.6, 2.2, 2.2, 2.1, 3, 3.4, 3.3, 2.9, 2.9, 4.6, 4.6, 9.3, 9, 5, 4.9, 9, 9.8, 9.3, 9.9, 9.9, 9, 9.6, 9.6, None, 9.9, 9.9, 9.9, 9.9, 9.6, 9.3, 8.3, 8.3, 8.3, 8.2, 8.3, 8.3, 8.6, 8.8, 8.9, 9, 8.8, None, 9.6, 9.6, 9.6, 9.6, 9.6, 5, 6.8, 6.8, 6.3, 2, 2.2, 2.3, None]
SI_BASE_BLACK_H = [0, 1, 2, 3, 4, 20, 21, 22, 32, 33, 34, 35, 36, 37, 38, 39, 40, 41, 42, 43, 44, 45, 46, 48, 49, 50, 51, 58, 59]
SI_BASE_BLACK = [3.5, 3.5, 4.6, 4.2, 9.3, 1.8, 2, 2.5, 3.4, 2.1, 1.8, 1.9, 2.1, 2, 2, 2, 2.3, 0.85, 0.5, 2, 4.6, 3.1, 3.1, 1.3, 2, 2, 2.1, 1.9, 0.7]
SI_BASE_GREY_H = [4, 6, 10, 11, 19, 27, 28, 31, 37, 39, 40, 42, 43, 45, 47, 51, 52, 53, 56, 57, 58]
SI_BASE_GREY = [2, 2.3, 0.25, 0.3, 1.3, 4.6, 5.6, 2, 0.43, 0.32, 0.7, 0.38, 1, 3.2, 2.6, 1.6, 1.35, 0.5, 0.18, 0.17, 1.35]
SI_BASE_WHITE_H = [1, 2, 3, 4, 5, 6, 7, 8, 9, 10, 12, 13, 14, 15, 16, 17, 19, 20, 21, 22, 23, 24, 25, 27, 28, 29, 32, 33, 34, 35, 36, 37, 38, 39, 40, 41, 42, 43, 44, 45, 46, 47, 48, 49, 50, 51, 52, 53, 54, 55, 56, 57, 58]
SI_BASE_WHITE = [0.92, 0.86, 1.07, 1.07, 1.14, 1.7, 1.7, 1.6, 1.6, 0.25, 1.7, 1.7, 1.3, 1.3, 1.14, 1.23, 1.23, 0.86, 0.92, 1.07, 1, 0.86, 0.86, 0.92, 0.92, 1, 0.86, 0.92, 1.07, 0.27, 0.25, 0.22, 0.22, 0.25, 0.32, 0.43, 0.6, 0.7, 0.48, 0.43, 0.43, 0.6, 0.29, 0.2, 0.17, 0.17, 0.2, 0.22, 0.27, 2.05, 0.14, 0.17, 0.22]
SI_VIS_H = [0, 3.2, 8.2, 10.5, 14, 17.2, 19.3, 20, 22.5, 23.1, 24.9, 26, 29, 32, 33.6, 35.4, 38.9, 41, 42.2, 43.3, 45.7, 46.8, 48, 49.2, 50.2, 50.9, 53.9, 56.2, 58.3, 59]
SI_VIS = [4.6, 3.6, 2.5, 5, 11.5, 8, 13, 2.1, 3, 10, 10, 2.2, 2.1, 5, 4.2, 6.6, 3.8, 6.6, 2, 10, 5, 18, 2, 3.6, 18, 5, 12, 6.5, 10, 3.4]
SI_C_WHITE_H = [0, 1.8, 3.2, 5, 15.5, 17, 18.3, 23.4, 24.6, 26, 27.8, 30.7, 31.9, 42.2, 43.9, 45, 46.5]
SI_C_WHITE = [2, 8, 6.9, 0.1, 0, 1, 0, 2.7, 1.8, 2.7, 1.6, 4.2, 2.7, 6.5, 5.2, 2.3, 0]
SI_C_GREY_H = [0, 1.5, 2.9, 4.7, 6.2, 8.2, 10, 11.7, 13.8, 15.5, 19, 20.2, 21.1, 22, 23.1, 24.9, 27.8, 31.9, 32.8, 34.8, 38.9, 41, 42.5, 46.5, 48.9, 51.5, 52.4, 53.9, 56.2, 57.7, 59]
SI_C_GREY = [0.5, 8, 6.9, 1.8, 1.8, 2.7, 4.4, 6.3, 0.5, 0, 0.1, 3.5, 1, 4.8, 0.5, 2.7, 0.9, 2.3, 7.4, 7.9, 7.9, 6.1, 2.3, 0.3, 7.4, 0.5, 3.5, 0.1, 0.2, 2.7, 6.1]
SI_C_DARK_H = [0, 2, 5, 8.2, 11.4, 13.8, 19, 20.1, 21.4, 26.6, 33, 33.7, 36.6, 38.9, 41, 43.3, 46, 49.2, 51.5, 52.2, 53.6, 56.2, 57.7, 59]
SI_C_DARK = [0.1, 1.4, 0.5, 0.8, 0.5, 0, 0.1, 2.7, 0.1, 0.3, 1.6, 3.5, 1.8, 4, 6.7, 2.3, 0.1, 4.8, 0.1, 3.3, 0.1, 0.1, 1.8, 3.5]
SI_FOG_H = [1.8, 3.5, 5, 6.2, 19, 21.4, 23.7, 26, 26.8, 29, 32.5, 34.8, 36.6, 38.6, 40.1, 41, 42.2, 45, 46.5, 49.2, 51.5, 54.9, 56.2, 59]
SI_FOG = [7.8, 5.2, 0.3, 0, 0, 1.4, 0.3, 2.5, 0.2, 2, 5.7, 2.7, 1.6, 6.3, 5.7, 0.3, 4.8, 1.4, 0, 4.8, 0.2, 1, 0, 0.1]
SI_MIST_H = [7, 27, 28, 50, 56, 57]
SI_MIST = [0.03, 0.05, 0.03, 0.03, 0.04, 0.03]

# skala osi podstawy chmur i widzialnosci jest nieliniowa
SCALE_POS = [0, 1, 2, 3, 4]
BASE_KM = [0, 0.5, 2, 7, 15]
VIS_KM = [0, 1, 5, 20, 100]

PRESS_COLORS = [(1008.9, '#2fc80e'), (1009.6, '#38d40a'), (1010.4, '#4cdc04'), (1011.4, '#66e404'), (1013, '#8cec0c'), (1020, '#a0f010')]
WIND_COLORS = [(1.6, '#12d4f4'), (3.0, '#14aef6'), (3.6, '#0c84e4'), (4.3, '#0a62c0'), (5.0, '#0b4c92'), (30, '#0e8a22')]

# geometria wzorcowego meteogramu (Plock), z niej skalowane sa pozostale
REF_L, REF_R, REF_T, REF_B = 69.0, 407.5, 100.7, 565.0
FRACS = {'temp': (0, .1413), 'rain': (.1572, .2999), 'press': (.3162, .4577), 'wind': (.4746, .6161),
         'dir': (.6279, .6860), 'base': (.6974, .8410), 'cloud': (.8566, 1.0)}


def band_color(value, table):
    for limit, col in table:
        if value <= limit:
            return col
    return table[-1][1]


def get(p, name):
    return np.array(globals()[f'{p}_{name}'], dtype=float)


def utc_hour(clock):
    # godzina CEST -> godziny od 19 UTC 14.08
    hh, mm = clock.split(':')
    return int(hh) + int(mm) / 60 - 2 - 19 + 24


def make_axes(fig, L, R, T, B, key):
    f0, f1 = FRACS[key]
    y0, y1 = T + (B - T) * f0, T + (B - T) * f1
    ax = fig.add_axes([L / 960, 1 - y1 / 1443, (R - L) / 960, (y1 - y0) / 1443], zorder=2)
    ax.set_xlim(0, 59)
    ax.set_xticks(np.arange(2, 59, 3))
    ax.tick_params(length=0, labelbottom=False, labelsize=7.2, labelcolor=TICK, pad=4)
    ax.grid(True, color='black', linestyle=(0, (1, 2)), linewidth=0.9)
    ax.set_axisbelow(False)
    for s in ax.spines.values():
        s.set_color('#333333')
        s.set_linewidth(1.0)
    return ax


def right_axis(ax, left_ticks, right_ticks, color):
    tax = ax.twinx()
    a = (right_ticks[-1] - right_ticks[0]) / (left_ticks[-1] - left_ticks[0])
    conv = lambda v: right_ticks[0] + (v - left_ticks[0]) * a
    lo, hi = ax.get_ylim()
    tax.set_ylim(conv(lo), conv(hi))
    tax.set_yticks([conv(v) for v in left_ticks], labels=[str(v) for v in right_ticks])
    tax.tick_params(length=0, labelsize=7.2, labelcolor=color, pad=3.5)
    tax.spines[:].set_visible(False)
    return tax


def night_spans(ax, spans, color):
    for a, b in spans:
        ax.axvspan(a, b, color=color, lw=0, zorder=0)


def band_fill(ax, hours, vals, table, floor):
    for i in range(len(hours) - 1):
        col = band_color((vals[i] + vals[i + 1]) / 2, table)
        ax.fill_between(hours[i:i + 2], vals[i:i + 2], floor, color=col, lw=0.3, zorder=1)


def meteogram(fig, bg, p, L, R, T, B, compact=False):
    info = globals()[f'{p}_INFO']
    sx, sy = (R - L) / (REF_R - REF_L), (B - T) / (REF_B - REF_T)
    X = lambda v: L + (v - REF_L) * sx
    Y = lambda v: T + (v - REF_T) * sy
    rise = utc_hour(info[0])
    sset = utc_hour(info[1])
    spans = [(0, rise), (sset, rise + 24), (sset + 24, rise + 48)]

    # tlo pod wykresem
    bg.add_patch(Rectangle((X(13), Y(51)), X(459) - X(13), Y(615) - Y(51), color='#fdfaf1', lw=0, zorder=1))
    bg.add_patch(Rectangle((L, Y(77)), R - L, Y(589) - Y(77), color='white', lw=0, zorder=1.1))
    hx = (R - L) / 59
    for a, b in spans:
        bg.add_patch(Rectangle((L + a * hx, Y(77)), (b - a) * hx, Y(589) - Y(77), color='#dfdfdf', lw=0, zorder=1.2))

    fs = 7.2
    def txt(x, y, s, ha='center', color=TICK, size=fs, **kw):
        bg.text(X(x), Y(y), s, ha=ha, va='center', color=color, fontsize=size, zorder=3, **kw)

    txt(125, 56, f'wschód słońca: {info[0]} CEST', ha='right', size=6.3)
    txt(125, 66, f'zachód słońca: {info[1]} CEST', ha='right', size=6.3)
    txt(238, 56, info[2], size=6.3)
    txt(238, 66, info[3], size=6.3)
    txt(403, 56, 'wysokość (min, środek, max)', size=6.3)
    txt(403, 66, info[4], size=6.3)
    for x in (41.7, 434):
        txt(x, 92, 'CEST', size=7.4)
        txt(x, 573, 'UTC', size=7.4)
    txt(166, 81.5, 'pią, 15.08', size=7.4)
    txt(304, 81.5, 'sob, 16.08', size=7.4)
    txt(166, 584, '15.08', size=7.4)
    txt(304, 584, '16.08', size=7.4)
    cest = ['23', '05', '11', '17', '23', '05', '11', '17', '23', '05']
    utc = ['21', '03', '09', '15', '21', '03', '09', '15', '21', '03']
    for i, (c, u) in enumerate(zip(cest, utc)):
        h = 2 + 6 * i
        bg.text(L + h * hx, Y(91.5), c, ha='center', va='center', color=TICK, fontsize=fs + .2, zorder=3)
        bg.text(L + h * hx, Y(574), u, ha='center', va='center', color=TICK, fontsize=fs + .2, zorder=3)
    txt(24, 605, 'meteo-um@icm.edu.pl', ha='left', color='#2c2c5c', size=7.9)
    txt(452, 605, '(C) 2007-2014 ICM, Uniwersytet Warszawski', ha='right', color='#2c2c5c', size=8.4)

    # opisy osi
    labels = [(134, 'temperatura', '(°C)', 'temperatura', '(°C)'), (207, 'opad', '(mm/h, kg/m^2/h)', 'wilgotność wzgl.', '(%)'),
              (282, 'ciśnienie', '(hPa)', 'ciśnienie', '(mm Hg)'), (354, 'wiatr', '(m/s)', 'wiatr', '(km/h)'),
              (457, '', '', 'widzialność', '(km)'), (534, '', '', 'mgła', '(frakcja)')]
    for y, a, b, c, d in labels:
        kw = dict(color=NAVY, rotation=90, size=6.9)
        if a:
            txt(24, y, a, **kw)
        if b:
            txt(36, y, b, **{**kw, 'size': 6.2})
        txt(454, y, c, **kw)
        txt(441.5, y, d, **{**kw, 'size': 6.4})
    txt(24, 500, 'zachmurzenie pion. rozciągł. chm.', color=NAVY, rotation=90, size=7.1)
    txt(36, 457, '(km)', color=NAVY, rotation=90, size=6.4)
    txt(36, 532, '(oktanty)', color=NAVY, rotation=90, size=6.2)
    for x in (30, 442):
        txt(x, 396.5, 'N', color=NAVY, size=7)
        txt(x, 411, 'S', color=NAVY, size=7)
        txt(x - 6.5, 403.5, 'W', color=NAVY, size=7)
        txt(x + 6.5, 404, 'E', color=NAVY, size=7)

    hh = np.arange(60)
    # temperatura
    ax = make_axes(fig, L, R, T, B, 'temp')
    ax.set_ylim(9.5, 27.5)
    ax.set_yticks([25, 20, 15, 10])
    night_spans(ax, spans, '#dfdfdf')
    t_h, t_v, t_b = get(p, 'TEMP_H'), get(p, 'TEMP'), get(p, 'BLUE')
    ax.fill_between(t_h, t_v - 0.7, t_v + 0.8, color='#f8c4c8', alpha=0.7, lw=0, zorder=1)
    ax.vlines(get(p, 'STEM_H'), get(p, 'STEM_BOT'), get(p, 'STEM_TOP'), color='#8e5a5e', lw=1.0, zorder=1.5)
    ax.plot(hh, get(p, 'DEW'), ls='none', marker='s', ms=1.8, color='#3a3ab0', zorder=2)
    ax.plot(t_h, t_b, color='#1414b4', lw=1.7, zorder=3)
    ax.plot(t_h, t_v, color='#d4102c', lw=1.7, zorder=3.1)
    right_axis(ax, [25, 20, 15, 10], [25, 20, 15, 10], TICK)

    # opad i wilgotnosc
    ax = make_axes(fig, L, R, T, B, 'rain')
    rain_ticks = [20, 16, 12, 8, 4, 0] if compact else [30, 24, 18, 12, 6, 0]
    rh_ticks = [100, 90, 80, 70, 60, 50] if p in ('OS', 'SI') else [95, 85, 75, 65, 55, 45]
    ax.set_ylim(-0.1 if compact else -0.3, 20.9 if compact else 31.3)
    ax.set_yticks(rain_ticks)
    night_spans(ax, spans, '#dfdfdf')
    ax.vlines(get(p, 'RAIN_H'), 0, get(p, 'RAIN'), color='#3f9f45', lw=1.1, zorder=1.5)
    ax.fill_between(get(p, 'RAIN_LOW_H'), get(p, 'RAIN_LOW'), 0, color='#14881e', lw=0, zorder=1.6)
    tax = right_axis(ax, rain_ticks, rh_ticks, '#b58058')
    rh_h, rh = get(p, 'RH_H'), get(p, 'RH')
    tax.plot(rh_h, rh, color='#f0b8a0', lw=2.6, alpha=0.7, zorder=2)
    tax.plot(rh_h, rh, color='#c4603a', lw=1.2, zorder=3)

    # cisnienie
    ax = make_axes(fig, L, R, T, B, 'press')
    pr_ticks = [1015, 1010, 1005, 1000] if compact else [1010, 1005, 1000, 995]
    mm_ticks = [761, 758, 754, 750] if compact else [758, 754, 750, 746]
    ax.set_ylim(995.9, 1015) if compact else ax.set_ylim(994.9, 1013.85)
    ax.set_yticks(pr_ticks)
    night_spans(ax, spans, '#dfdfdf')
    pr_h, pr = get(p, 'PRESS_H'), get(p, 'PRESS')
    band_fill(ax, pr_h, pr, PRESS_COLORS, ax.get_ylim()[0])
    ax.plot(pr_h, pr, color='black', lw=1.6, zorder=3)
    right_axis(ax, pr_ticks, mm_ticks, TICK)

    # wiatr
    ax = make_axes(fig, L, R, T, B, 'wind')
    w_ticks = [15, 10, 5, 0] if compact else [20, 15, 10, 5, 0]
    kmh_ticks = [54, 36, 18, 0] if compact else [72, 54, 36, 18, 0]
    ax.set_ylim(0, 15.2) if compact else ax.set_ylim(-0.05, 20)
    ax.set_yticks(w_ticks)
    night_spans(ax, spans, '#dfdfdf')
    w_h, w = get(p, 'WIND_H'), get(p, 'WIND')
    band_fill(ax, w_h, w, WIND_COLORS, ax.get_ylim()[0])
    ax.plot(w_h, w, color='#0a2a90', lw=1.3, zorder=3)
    ax.hlines(get(p, 'GUST'), get(p, 'GUST_H') - 0.9, get(p, 'GUST_H') + 0.9, color='#b83a48', lw=1.0, zorder=3)
    right_axis(ax, w_ticks, kmh_ticks, TICK)

    # kierunek wiatru
    ax = make_axes(fig, L, R, T, B, 'dir')
    ax.set_ylim(0, 1)
    ax.set_yticks([])
    ax.grid(True, axis='x', color='black', linestyle=(0, (1, 2)), linewidth=0.9)
    night_spans(ax, spans, '#dfdfdf')
    ang = np.deg2rad(get(p, 'DIR'))
    ax.quiver(hh, np.full(60, 0.58), 13 * np.cos(ang), 13 * np.sin(ang), angles='uv', scale_units='dots', scale=1,
              units='dots', width=1.0, headwidth=6.5, headlength=5.5, headaxislength=5, pivot='tip', color='#16168c',
              clip_on=False, zorder=4)

    # podstawa chmur i widzialnosc
    ax = make_axes(fig, L, R, T, B, 'base')
    ax.set_yscale('function', functions=(lambda v: np.interp(v, BASE_KM, SCALE_POS), lambda v: np.interp(v, SCALE_POS, BASE_KM)))
    ax.set_ylim(0, 15)
    ax.set_yticks(BASE_KM, labels=['0.0', '0.5', '2.0', '7.0', '15.0'])
    ax.minorticks_off()
    ax.set_facecolor('#8ccbf6')
    night_spans(ax, spans, '#78b6e8')
    ax.plot(hh, get(p, 'BASE_RED'), ls='none', marker='o', ms=3.3, color='#8e2a3c', zorder=3)
    ax.plot(get(p, 'BASE_WHITE_H'), get(p, 'BASE_WHITE'), ls='none', marker='o', ms=3.0, color='white', zorder=3)
    ax.plot(get(p, 'BASE_GREY_H'), get(p, 'BASE_GREY'), ls='none', marker='o', ms=3.1, color='#8c9498', zorder=3.1)
    ax.plot(get(p, 'BASE_BLACK_H'), get(p, 'BASE_BLACK'), ls='none', marker='o', ms=3.2, color='#0a0a14', zorder=3.2)
    tax = ax.twinx()
    tax.set_yscale('function', functions=(lambda v: np.interp(v, VIS_KM, SCALE_POS), lambda v: np.interp(v, SCALE_POS, VIS_KM)))
    tax.set_ylim(0, 100)
    tax.set_yticks(VIS_KM, labels=['0', '1', '5', '20', '100'])
    tax.minorticks_off()
    tax.tick_params(length=0, labelsize=7.2, labelcolor='#d8a84c', pad=3.5)
    tax.spines[:].set_visible(False)
    tax.plot(get(p, 'VIS_H'), get(p, 'VIS'), color='#e09a28', lw=1.6, zorder=4)

    # zachmurzenie i mgla
    ax = make_axes(fig, L, R, T, B, 'cloud')
    ax.set_ylim(0, 8)
    ax.set_yticks([8, 6, 4, 2, 0])
    ax.set_facecolor('#8ccbf6')
    night_spans(ax, spans, '#78b6e8')
    ax.fill_between(get(p, 'C_WHITE_H'), get(p, 'C_WHITE'), 0, color='white', lw=0, zorder=1)
    ax.fill_between(get(p, 'C_GREY_H'), get(p, 'C_GREY'), 0, color='#8c8c8c', lw=0, zorder=1.1)
    ax.fill_between(get(p, 'C_DARK_H'), get(p, 'C_DARK'), 0, color='#505050', lw=0, zorder=1.2)
    ax.plot(get(p, 'FOG_H'), get(p, 'FOG'), color='#f4f4f4', lw=0.9, zorder=3)
    tax = right_axis(ax, [8, 6, 4, 2, 0], [1, 0.75, 0.5, 0.25, 0], '#d8a84c')
    tax.bar(get(p, 'MIST_H'), get(p, 'MIST'), width=0.45, color='#e8a818', zorder=3)

    # znak wodny ICM
    cx, cy = X(215), Y(345)
    for w_, h_, a0, a1, lw_ in [(270, 370, 95, 255, 13), (170, 260, 170, 300, 8), (300, 240, 250, 340, 10)]:
        bg_over.add_patch(Arc((cx, cy), w_ * sx, h_ * sy, theta1=a0, theta2=a1, color='#606060', lw=lw_, alpha=0.10))


fig = plt.figure(figsize=(9.6, 14.43), dpi=100, facecolor='white')
bg = fig.add_axes([0, 0, 1, 1], zorder=0)
bg.set_xlim(0, 960)
bg.set_ylim(1443, 0)
bg.axis('off')
bg_over = fig.add_axes([0, 0, 1, 1], zorder=5)
bg_over.set_xlim(0, 960)
bg_over.set_ylim(1443, 0)
bg_over.axis('off')
bg_over.patch.set_alpha(0)

# ramki tabeli i naglowki
TITLE_BAND = '#fbe4d5'
for x0, x1 in ((3, 476), (476, 958)):
    for y0, y1 in ((5, 51), (629, 675)):
        bg.add_patch(Rectangle((x0, y0), x1 - x0, y1 - y0, facecolor=TITLE_BAND, edgecolor='#c9b49c', lw=0.8, zorder=0.5))
for x in (3, 476, 958):
    bg.plot([x, x], [4, 1238], color='#b8a88e', lw=1.2, zorder=4)
bg.plot([3, 958], [4, 4], color='#8f5a1e', lw=1.6, zorder=4)
bg.plot([3, 958], [628, 628], color='#8f5a1e', lw=1.6, zorder=4)
bg.add_patch(Rectangle((3, 1236), 955, 5, color='#a5520f', lw=0, zorder=4))

for p, tx, ty in (('PL', 240, 28), ('CI', 716.5, 28), ('OS', 239, 652), ('SI', 716.5, 652)):
    bg.text(tx, ty, globals()[f'{p}_TITLE'], ha='center', va='center', fontsize=14.5, fontweight='bold', color='black', zorder=4)

meteogram(fig, bg, 'PL', 69, 407.5, 100.7, 565)
meteogram(fig, bg, 'CI', 542, 891.7, 101.7, 560.7)
meteogram(fig, bg, 'OS', 70.7, 410.7, 723, 1170)
meteogram(fig, bg, 'SI', 544.3, 880.3, 721.7, 1164.3, compact=True)

# stopka
LATO = ['Lato', 'DejaVu Sans']
bg.text(479, 1400, 'WOJEWÓDZKIE CENTRUM ZARZĄDZANIA KRYZYSOWEGO', ha='center', va='center', fontsize=10.9, family=LATO, color='#111111')
bg.text(479, 1417, 'Plac Bankowy 3/5, 00–950 Warszawa, tel.: (22) 595-13-00; 595-13-01; 987; fax.: (22) 620-19-40; 695-63-53;', ha='center', va='center', fontsize=9.5, family=LATO, color='#111111')
bg.text(479, 1434, 'www.mazowieckie.pl', ha='center', va='center', fontsize=10, family=LATO, color='#1a3aa8')
bg.plot([416, 542], [1441, 1441], color='#1a3aa8', lw=0.8)

fig.savefig('out.png', dpi=100)
